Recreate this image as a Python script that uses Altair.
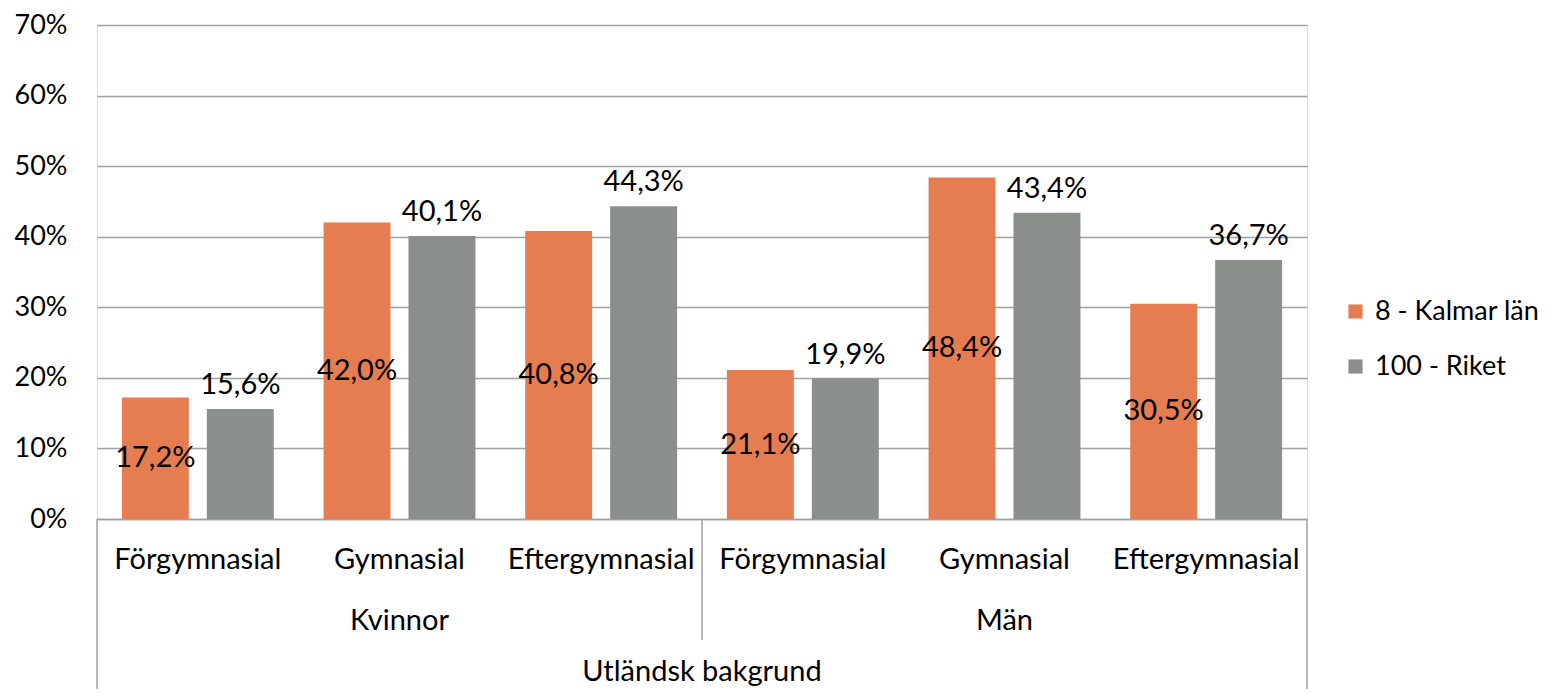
import altair as alt
import pandas as pd

groups = ["Kvinnor", "Kvinnor", "Kvinnor", "Män", "Män", "Män"]
levels = ["Förgymnasial", "Gymnasial", "Eftergymnasial", "Förgymnasial", "Gymnasial", "Eftergymnasial"]
series = ["8 - Kalmar län", "100 - Riket"]
kalmar = [0.172, 0.420, 0.408, 0.211, 0.484, 0.305]
riket = [0.156, 0.401, 0.443, 0.199, 0.434, 0.367]
outer_label = "Utländsk bakgrund"

colors = ["#E67D50", "#8B8F8C"]
FONT = "Lato"
FS = 29

keys = [f"{g}|{l}" for g, l in zip(groups, levels)]
rows = []
for k, a, b in zip(keys, kalmar, riket):
    rows.append({"key": k, "serie": series[0], "value": a})
    rows.append({"key": k, "serie": series[1], "value": b})
df = pd.DataFrame(rows)
df["label"] = df["value"].map(lambda v: f"{v*100:.1f}%".replace(".", ","))
df["half"] = df["value"] / 2

TOP = 17
W, H = 1210, 519 - 8 - TOP

xenc = alt.X("key:N", sort=keys, scale=alt.Scale(paddingInner=0, paddingOuter=0),
             axis=alt.Axis(title=None, labelExpr="split(datum.value, '|')[1]", labelAngle=0,
                           ticks=False, labelPadding=26, labelFontSize=FS, labelFont=FONT,
                           labelColor="#000000", domainColor="#A0A0A0", domainWidth=1.5,
                           labelBaseline="top", labelLimit=300))
xoff = alt.XOffset("serie:N", sort=series,
                   scale=alt.Scale(paddingInner=0.212, paddingOuter=0.293))
yenc = alt.Y("value:Q", scale=alt.Scale(domain=[0, 0.7]),
             axis=alt.Axis(title=None, format=".0%", values=[0, .1, .2, .3, .4, .5, .6, .7],
                           ticks=False, domain=False, labelPadding=30, labelFontSize=27,
                           labelFont=FONT, labelColor="#000000", gridColor="#A0A0A0",
                           gridWidth=1.5))

base = alt.Chart(df)
bars = base.mark_bar().encode(
    x=xenc, xOffset=xoff, y=yenc,
    color=alt.Color("serie:N", sort=series, scale=alt.Scale(domain=series, range=colors),
                    legend=alt.Legend(title=None, orient="none", legendX=1245, legendY=273,
                                      symbolType="square", symbolSize=200, symbolStrokeWidth=0,
                                      labelFontSize=27, labelFont=FONT, labelColor="#000000",
                                      rowPadding=27, labelOffset=6, labelLimit=300)),
)

lab_k = base.transform_filter(alt.datum.serie == series[0]).mark_text(
    font=FONT, fontSize=FS, baseline="middle", color="#000000").encode(
    x=alt.X("key:N", sort=keys), xOffset=alt.XOffset("serie:N", sort=series), y=alt.Y("half:Q"),
    text="label:N")
lab_r = base.transform_filter(alt.datum.serie == series[1]).mark_text(
    font=FONT, fontSize=FS, baseline="bottom", dy=-9, color="#000000").encode(
    x=alt.X("key:N", sort=keys), xOffset=alt.XOffset("serie:N", sort=series), y=alt.Y("value:Q"),
    text="label:N")

gdf = pd.DataFrame({"key": [keys[1], keys[4]], "g": [groups[1], groups[4]]})
glab = alt.Chart(gdf).mark_text(font=FONT, fontSize=FS, baseline="middle", color="#000000").encode(
    x=alt.X("key:N", sort=keys), y=alt.value(H + 102), text="g:N")

odf = pd.DataFrame({"key": [keys[2]], "t": [outer_label]})
olab = alt.Chart(odf).mark_text(font=FONT, fontSize=FS, baseline="middle", color="#000000").encode(
    x=alt.X("key:N", sort=keys, bandPosition=1), y=alt.value(H + 153), text="t:N")

sdf = pd.DataFrame({"key": [keys[2]]})
sep = alt.Chart(sdf).mark_rule(color="#A0A0A0", strokeWidth=1.5).encode(
    x=alt.X("key:N", sort=keys, bandPosition=1), y=alt.value(H), y2=alt.value(H + 121))

edge_l = alt.Chart(pd.DataFrame({"key": [keys[0]]})).mark_rule(color="#A0A0A0", strokeWidth=1.5).encode(
    x=alt.X("key:N", sort=keys, bandPosition=0), y=alt.value(H), y2=alt.value(H + 180))
edge_r = alt.Chart(pd.DataFrame({"key": [keys[5]]})).mark_rule(color="#A0A0A0", strokeWidth=1.5).encode(
    x=alt.X("key:N", sort=keys, bandPosition=1), y=alt.value(H), y2=alt.value(H + 180))

chart = alt.layer(bars, lab_k, lab_r, glab, olab, sep, edge_l, edge_r).properties(
    width=W, height=H,
    autosize=alt.AutoSizeParams(type="none"),
    padding={"left": 89, "top": TOP, "right": 245, "bottom": 170},
).configure_view(stroke=None).configure(background="#FFFFFF")

chart.save("out.html", embed_options={"renderer": "svg", "actions": False})
